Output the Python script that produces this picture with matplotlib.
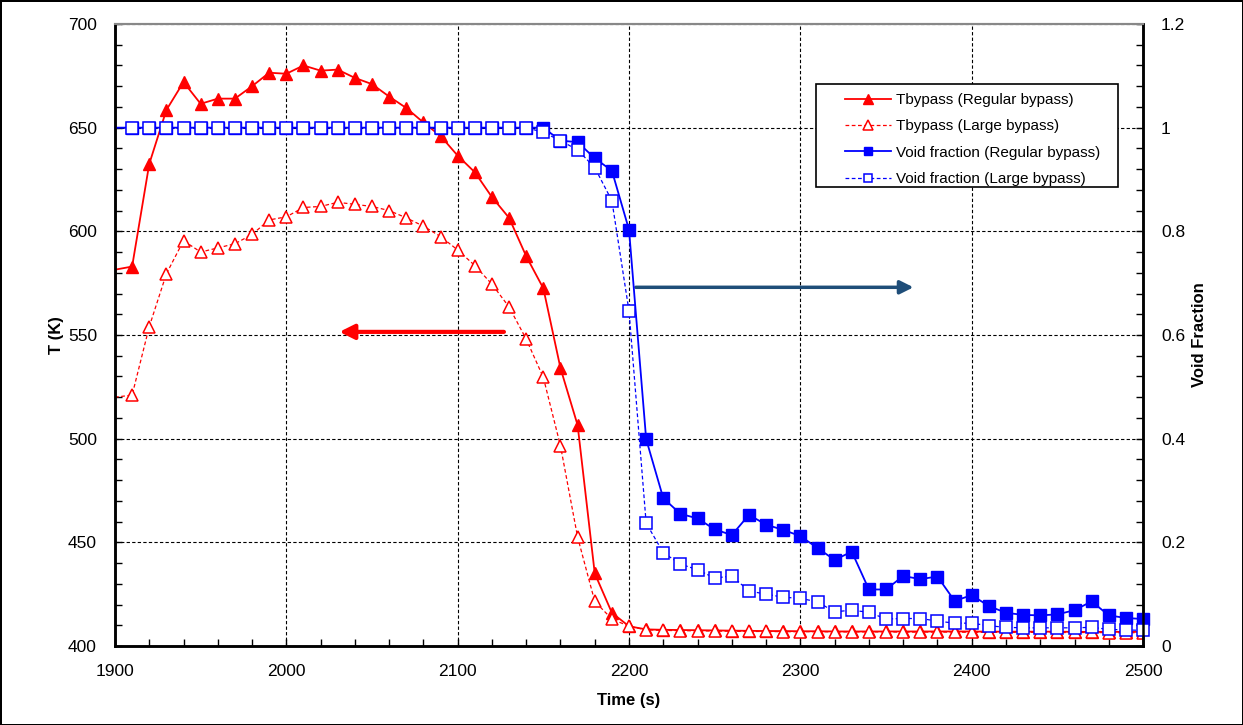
import matplotlib
matplotlib.use("Agg")
import matplotlib.pyplot as plt
from matplotlib.patches import Rectangle
from matplotlib.ticker import MultipleLocator

plt.rcParams['font.family'] = ['Liberation Sans', 'DejaVu Sans']

time_s = list(range(1900, 2510, 10))

t_regular = [
    581.5, 583, 632.5, 658.5, 672, 661.5, 664, 664, 670, 676.5,
    676, 680, 677.5, 678, 674, 671, 665, 659.5, 652.5, 646,
    636.5, 628.5, 616.5, 606.5, 588, 572.5, 534, 506.5, 435, 416,
    409.5, 408, 407.8, 407.7, 407.6, 407.5, 407.4, 407.3, 407.2, 407.2,
    407.1, 407.1, 407.0, 407.0, 407.0, 407.0, 407.0, 407.0, 407.0, 407.0,
    407.0, 406.9, 406.9, 406.9, 406.9, 406.9, 406.8, 406.8, 406.8, 406.8,
    406.8,
]

t_large = [
    520, 521, 554, 579.5, 595.5, 590, 592, 594, 598.5, 605.5,
    607, 611.5, 612, 614, 613, 612, 610, 606.5, 602.5, 597.5,
    591, 583.5, 574.5, 563.5, 548, 529.5, 496.5, 452.5, 421.5, 413,
    409.5, 407.8, 407.5, 407.4, 407.3, 407.2, 407.1, 407.0, 407.0, 406.9,
    406.9, 406.9, 406.8, 406.8, 406.8, 406.8, 406.7, 406.7, 406.7, 406.7,
    406.6, 406.6, 406.6, 406.6, 406.5, 406.5, 406.5, 406.5, 406.4, 406.4,
    406.4,
]

vf_regular = [1.0] * 26 + [
    0.975, 0.972, 0.941, 0.917, 0.803, 0.399, 0.285, 0.255, 0.246, 0.225,
    0.214, 0.253, 0.234, 0.224, 0.212, 0.189, 0.166, 0.182, 0.109, 0.109,
    0.135, 0.129, 0.134, 0.087, 0.098, 0.077, 0.064, 0.060, 0.059, 0.061,
    0.069, 0.086, 0.059, 0.054, 0.052,
]

vf_large = [1.0] * 25 + [
    0.991, 0.975, 0.957, 0.923, 0.859, 0.646, 0.237, 0.180, 0.158, 0.147,
    0.131, 0.135, 0.106, 0.100, 0.094, 0.092, 0.085, 0.066, 0.069, 0.065,
    0.052, 0.053, 0.053, 0.048, 0.044, 0.044, 0.039, 0.036, 0.035, 0.035,
    0.035, 0.035, 0.036, 0.032, 0.031, 0.030,
]

labels = [
    "Tbypass (Regular bypass)",
    "Tbypass (Large bypass)",
    "Void fraction (Regular bypass)",
    "Void fraction (Large bypass)",
]

fig = plt.figure(figsize=(12.43, 7.25), dpi=100)
fig.patch.set_edgecolor("black")
fig.patch.set_linewidth(2)

ax = fig.add_axes([0.0925, 0.109, 0.8271, 0.8579])
ax2 = ax.twinx()

red = "#FF0000"
blue = "#0000FF"

# temperature, left axis
l1, = ax.plot(time_s, t_regular, color=red, lw=1.3, marker="^", ms=9,
              mfc=red, mec=red, markevery=slice(1, None), label=labels[0])
l2, = ax.plot(time_s, t_large, color=red, lw=0.9, ls=(0, (3, 2)), marker="^",
              ms=9, mfc="white", mec=red, mew=1.1,
              markevery=slice(1, None), label=labels[1])

# void fraction, right axis
l3, = ax2.plot(time_s, vf_regular, color=blue, lw=1.3, marker="s", ms=8.5,
               mfc=blue, mec=blue, markevery=slice(1, None), label=labels[2],
               clip_on=False)
l4, = ax2.plot(time_s, vf_large, color=blue, lw=0.9, ls=(0, (3, 2)), marker="s",
               ms=8.5, mfc="white", mec=blue, mew=1.1,
               markevery=slice(1, None), label=labels[3], clip_on=False)

ax.set_xlim(1900, 2500)
ax.set_ylim(400, 700)
ax2.set_ylim(0, 1.2)

ax.xaxis.set_major_locator(MultipleLocator(100))
ax.xaxis.set_minor_locator(MultipleLocator(20))
ax.yaxis.set_major_locator(MultipleLocator(50))
ax.yaxis.set_minor_locator(MultipleLocator(10))
ax2.yaxis.set_minor_locator(MultipleLocator(0.04))
ax2.set_yticks([0, 0.2, 0.4, 0.6, 0.8, 1.0, 1.2])
ax2.set_yticklabels(["0", "0.2", "0.4", "0.6", "0.8", "1", "1.2"])

ax.grid(True, which="major", color="black", ls=(0, (3, 2)), lw=0.8)
ax.set_axisbelow(True)

for a in (ax, ax2):
    a.tick_params(which="both", direction="in", labelsize=12.5, pad=13)
    a.tick_params(which="both", length=5, width=1)
    for side in ("left", "right", "bottom"):
        a.spines[side].set_linewidth(1.8)
    a.spines["top"].set_color("#888888")
    a.spines["top"].set_linestyle((0, (2, 1)))
    a.spines["top"].set_linewidth(1.5)

ax.set_xlabel("Time (s)", fontsize=12, fontweight="bold", labelpad=10)
ax.set_ylabel("T (K)", fontsize=12, fontweight="bold", labelpad=3)
ax2.set_ylabel("Void Fraction", fontsize=12, fontweight="bold", labelpad=5)

ax.annotate("", xy=(2031, 551.5), xytext=(2127, 551.5),
            arrowprops=dict(arrowstyle="-|>", color=red, lw=3,
                            mutation_scale=22, shrinkA=0, shrinkB=0))
ax.annotate("", xy=(2366, 573), xytext=(2204, 573),
            arrowprops=dict(arrowstyle="-|>", color="#1F4E79", lw=2.5,
                            mutation_scale=20, shrinkA=0, shrinkB=0))

# legend box drawn separately so the inner padding matches
ax2.add_patch(Rectangle((0.682, 0.738), 0.294, 0.1655, transform=ax2.transAxes,
                        facecolor="white", edgecolor="black", lw=1.2,
                        zorder=4.9))
leg = ax2.legend(handles=[l1, l2, l3, l4], loc="upper left",
                 bbox_to_anchor=(0.701, 0.9035), fontsize=11,
                 frameon=False, handlelength=3.0,
                 handletextpad=0.35, markerscale=0.75, labelspacing=0.8,
                 borderpad=0.6, borderaxespad=0)
leg.set_zorder(5)

fig.savefig("out.png", dpi=100)
